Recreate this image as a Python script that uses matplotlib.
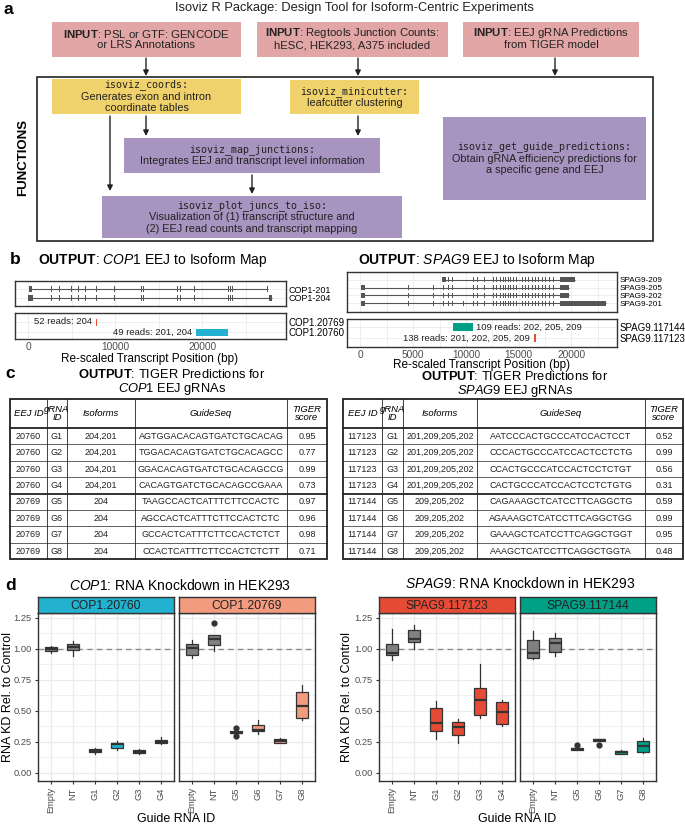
import matplotlib
matplotlib.use("Agg")
import matplotlib.pyplot as plt
from matplotlib.patches import Rectangle
from matplotlib.ticker import MultipleLocator

plt.rcParams['font.family'] = ['Liberation Sans', 'DejaVu Sans']
plt.rcParams['mathtext.fontset'] = 'custom'
plt.rcParams['mathtext.rm'] = 'Liberation Sans'
plt.rcParams['mathtext.it'] = 'Liberation Sans:italic'
plt.rcParams['mathtext.bf'] = 'Liberation Sans:bold'

#### data ####

# panel b: transcript structures (re-scaled bp)
cop1_tx = ["COP1-201", "COP1-204"]
cop1_first = [(150, 450), (40, 610)]
cop1_last = [(27380, 27480), (27660, 28010)]
cop1_inner = [2650, 3600, 4950, 5700, 6580, 7800, 9900, 12950, 13210,
              17130, 17400, 19040, 23000, 23200, 23400]

cop1_juncs = ["COP1.20769", "COP1.20760"]
cop1_junc_start = [7800, 19280]
cop1_junc_end = [7950, 22900]
cop1_junc_reads = [52, 49]
cop1_junc_iso = ["204", "201, 204"]

spag9_tx = ["SPAG9-209", "SPAG9-205", "SPAG9-202", "SPAG9-201"]
spag9_first = [(7700, 8110), (20, 430), (20, 430), (20, 430)]
spag9_last = [(18900, 20350), (18900, 19820), (18900, 19820), (18900, 23270)]
spag9_early = [[], [4540, 6910, 7800], [4540, 6910, 7800], [4540, 6910, 7800, 9760]]
spag9_inner = [8330, 8650, 10710, 11030, 11720, 12610, 12860, 13240, 13490,
               13710, 13970, 14190, 14440, 14720, 15290, 15610, 15930, 16240,
               16560, 16880, 17190, 17510, 17890, 18300]

spag9_juncs = ["SPAG9.117144", "SPAG9.117123"]
spag9_junc_start = [8750, 16420]
spag9_junc_end = [10710, 16620]
spag9_junc_reads = [109, 138]
spag9_junc_iso = ["202, 205, 209", "201, 202, 205, 209"]

# panel c: TIGER tables
cop1_eej = ["20760", "20760", "20760", "20760", "20769", "20769", "20769", "20769"]
cop1_grna = ["G1", "G2", "G3", "G4", "G5", "G6", "G7", "G8"]
cop1_iso = ["204,201", "204,201", "204,201", "204,201", "204", "204", "204", "204"]
cop1_seq = ["AGTGGACACAGTGATCTGCACAG", "TGGACACAGTGATCTGCACAGCC",
            "GGACACAGTGATCTGCACAGCCG", "CACAGTGATCTGCACAGCCGAAA",
            "TAAGCCACTCATTTCTTCCACTC", "AGCCACTCATTTCTTCCACTCTC",
            "GCCACTCATTTCTTCCACTCTCT", "CCACTCATTTCTTCCACTCTCTT"]
cop1_score = ["0.95", "0.77", "0.99", "0.73", "0.97", "0.96", "0.98", "0.71"]

spag9_eej = ["117123", "117123", "117123", "117123", "117144", "117144", "117144", "117144"]
spag9_grna = ["G1", "G2", "G3", "G4", "G5", "G6", "G7", "G8"]
spag9_iso = ["201,209,205,202"] * 4 + ["209,205,202"] * 4
spag9_seq = ["AATCCCACTGCCCATCCACTCCT", "CCCACTGCCCATCCACTCCTCTG",
             "CCACTGCCCATCCACTCCTCTGT", "CACTGCCCATCCACTCCTCTGTG",
             "CAGAAAGCTCATCCTTCAGGCTG", "AGAAAGCTCATCCTTCAGGCTGG",
             "GAAAGCTCATCCTTCAGGCTGGT", "AAAGCTCATCCTTCAGGCTGGTA"]
spag9_score = ["0.52", "0.99", "0.56", "0.31", "0.59", "0.99", "0.95", "0.48"]

table_header = ["EEJ ID", "gRNA\nID", "Isoforms", "GuideSeq", "TIGER\nscore"]

# panel d: knockdown boxplots (whisker low, q1, median, q3, whisker high, outliers)
guides_a = ["Empty", "NT", "G1", "G2", "G3", "G4"]
guides_b = ["Empty", "NT", "G5", "G6", "G7", "G8"]
cop1_a_lo = [0.968, 0.94, 0.155, 0.185, 0.155, 0.23]
cop1_a_q1 = [0.98, 0.988, 0.165, 0.205, 0.16, 0.24]
cop1_a_med = [0.998, 1.015, 0.18, 0.23, 0.17, 0.25]
cop1_a_q3 = [1.015, 1.04, 0.195, 0.245, 0.185, 0.265]
cop1_a_hi = [1.025, 1.063, 0.205, 0.255, 0.19, 0.29]
cop1_a_out = [[], [], [], [], [], []]

cop1_b_lo = [0.93, 0.98, 0.315, 0.315, 0.24, 0.43]
cop1_b_q1 = [0.955, 1.035, 0.32, 0.335, 0.245, 0.445]
cop1_b_med = [1.01, 1.08, 0.325, 0.35, 0.255, 0.54]
cop1_b_q3 = [1.04, 1.11, 0.335, 0.39, 0.275, 0.655]
cop1_b_hi = [1.075, 1.11, 0.34, 0.425, 0.28, 0.71]
cop1_b_out = [[], [1.21], [0.365, 0.295], [], [], []]

spag9_a_lo = [0.912, 1.003, 0.271, 0.239, 0.444, 0.378]
spag9_a_q1 = [0.949, 1.059, 0.340, 0.306, 0.465, 0.391]
spag9_a_med = [0.971, 1.082, 0.404, 0.372, 0.590, 0.492]
spag9_a_q3 = [1.043, 1.152, 0.524, 0.412, 0.683, 0.572]
spag9_a_hi = [1.162, 1.197, 0.577, 0.439, 0.878, 0.585]
spag9_a_out = [[], [], [], [], [], []]

spag9_b_lo = [0.923, 0.944, 0.183, 0.258, 0.152, 0.160]
spag9_b_q1 = [0.931, 0.976, 0.186, 0.258, 0.155, 0.168]
spag9_b_med = [0.965, 1.050, 0.194, 0.266, 0.165, 0.221]
spag9_b_q3 = [1.072, 1.090, 0.205, 0.271, 0.178, 0.260]
spag9_b_hi = [1.144, 1.130, 0.205, 0.271, 0.186, 0.279]
spag9_b_out = [[], [], [0.226], [0.226], [], []]

#### colours ####
DARK = '#222222'
PINK, YELLOW, PURPLE = '#E3A6A6', '#EFD26B', '#A794C0'
C_20760, C_20769 = '#22B2CF', '#F39B7F'
C_117123, C_117144 = '#E64B35', '#00A087'
TX_GREY = '#555555'
GRID = '#EBEBEB'

W, H = 685, 825
fig = plt.figure(figsize=(W / 100, H / 100), dpi=100)


def px_axes(x0, y0, x1, y1):
    return fig.add_axes([x0 / W, 1 - y1 / H, (x1 - x0) / W, (y1 - y0) / H])


# overlay in pixel coords for the flowchart, titles and tables
ov = px_axes(0, 0, W, H)
ov.set_xlim(0, W)
ov.set_ylim(H, 0)
ov.axis('off')


def box(x0, y0, x1, y1, color, lines, size=7.8, step=11.5):
    ov.add_patch(Rectangle((x0, y0), x1 - x0, y1 - y0, facecolor=color, edgecolor='none'))
    cy = (y0 + y1) / 2
    n = len(lines)
    for i, (txt, mono) in enumerate(lines):
        kw = dict(family='DejaVu Sans Mono', fontsize=size - 0.6) if mono else dict(fontsize=size)
        ov.text((x0 + x1) / 2, cy + (i - (n - 1) / 2) * step, txt, ha='center', va='center',
                color=DARK, **kw)


def arrow(x, y0, y1):
    ov.annotate('', xy=(x, y1), xytext=(x, y0),
                arrowprops=dict(arrowstyle='-|>', color=DARK, lw=1.0, mutation_scale=8,
                                shrinkA=0, shrinkB=0))


# ---- panel a ----
ov.text(4, 9, "a", fontsize=12.5, fontweight='bold', va='center')
ov.text(354, 8, "Isoviz R Package: Design Tool for Isoform-Centric Experiments",
        ha='center', va='center', fontsize=9.3, color=DARK)

box(52, 22, 241, 57, PINK, [("$\\mathbf{INPUT}$: PSL or GTF: GENCODE", False), ("or LRS Annotations", False)], size=8.2, step=12)
box(257, 22, 448, 57, PINK, [("$\\mathbf{INPUT}$: Regtools Junction Counts:", False), ("hESC, HEK293, A375 included", False)], size=8.2, step=12)
box(463, 22, 639, 57, PINK, [("$\\mathbf{INPUT}$: EEJ gRNA Predictions", False), ("from TIGER model", False)], size=8.2, step=12)
arrow(146, 58, 76)
arrow(358, 58, 76)
arrow(555, 58, 76)

ov.add_patch(Rectangle((37, 77), 616, 164, facecolor='none', edgecolor=DARK, lw=1.2))
ov.text(23, 157, "FUNCTIONS", rotation=90, ha='center', va='center', fontsize=9.5, fontweight='bold')

box(52, 79, 241, 114, YELLOW, [("isoviz_coords:", True), ("Generates exon and intron", False), ("coordinate tables", False)])
box(290, 80, 419, 114, YELLOW, [("isoviz_minicutter:", True), ("leafcutter clustering", False)])
box(124, 138, 380, 173, PURPLE, [("isoviz_map_junctions:", True), ("Integrates EEJ and transcript level information", False)])
box(443, 117, 646, 200, PURPLE, [("isoviz_get_guide_predictions:", True), ("Obtain gRNA efficiency predictions for", False), ("a specific gene and EEJ", False)])
box(102, 196, 402, 238, PURPLE, [("isoviz_plot_juncs_to_iso:", True), ("Visualization of (1) transcript structure and", False), ("(2) EEJ read counts and transcript mapping", False)])
arrow(146, 116, 136)
arrow(358, 116, 136)
arrow(110, 116, 191)
arrow(252, 175, 194)

# ---- panel b ----
ov.text(10, 260, "b", fontsize=12.5, fontweight='bold', va='center')
ov.text(38, 260, "$\\mathbf{OUTPUT}$: $\\mathit{COP1}$ EEJ to Isoform Map", fontsize=10, va='center')
ov.text(358, 260, "$\\mathbf{OUTPUT}$: $\\mathit{SPAG9}$ EEJ to Isoform Map", fontsize=10, va='center')


def style_track(ax, xlim, major, minor, ylim, rows, names, show_x, lab_size=7):
    ax.set_xlim(*xlim)
    ax.set_ylim(*ylim)
    ax.xaxis.set_major_locator(MultipleLocator(major))
    ax.xaxis.set_minor_locator(MultipleLocator(minor))
    ax.grid(which='both', axis='x', color=GRID, lw=0.6)
    ax.set_yticks(rows)
    ax.set_yticklabels(names, fontsize=lab_size)
    ax.grid(which='major', axis='y', color=GRID, lw=0.6)
    ax.set_axisbelow(True)
    ax.yaxis.tick_right()
    ax.tick_params(axis='y', length=0, pad=2)
    ax.tick_params(axis='x', which='both', length=0, pad=2, labelsize=7.3, labelcolor='#4D4D4D')
    if not show_x:
        ax.set_xticklabels([])
    for s in ax.spines.values():
        s.set_color('#333333')
        s.set_linewidth(1.0)


def draw_tx(ax, rows, first, last, inner_lists, tick_w, h):
    for r, f, l, inner in zip(rows, first, last, inner_lists):
        ax.plot([f[0], l[1]], [r, r], color=TX_GREY, lw=0.8, solid_capstyle='butt')
        segs = [(f[0], f[1] - f[0]), (l[0], l[1] - l[0])] + [(s, tick_w) for s in inner]
        ax.broken_barh(segs, (r - h / 2, h), facecolors=TX_GREY, edgecolor='none')


def draw_juncs(ax, rows, starts, ends, reads, isos, colors, sides):
    for r, s, e, n, iso, c, side in zip(rows, starts, ends, reads, isos, colors, sides):
        ax.broken_barh([(s, e - s)], (r - 0.35, 0.7), facecolors=c, edgecolor='none')
        if side == 'left':
            ax.annotate(f"{n} reads: {iso}", xy=(s, r), xytext=(-3, 0), textcoords='offset points',
                        ha='right', va='center', fontsize=6.8, color=DARK)
        else:
            ax.annotate(f"{n} reads: {iso}", xy=(e, r), xytext=(2, 0), textcoords='offset points',
                        ha='left', va='center', fontsize=6.8, color=DARK)


# COP1 tracks
ax = px_axes(15, 281, 286, 306)
style_track(ax, (-1500, 29600), 10000, 5000, (-0.9, 1.9), [1, 0], cop1_tx, False, lab_size=6.5)
draw_tx(ax, [1, 0], cop1_first, cop1_last, [cop1_inner, cop1_inner], 110, 0.7)

ax = px_axes(15, 313, 286, 339)
style_track(ax, (-1500, 29600), 10000, 5000, (-0.7, 1.9), [1, 0], cop1_juncs, True)
draw_juncs(ax, [1, 0], cop1_junc_start, cop1_junc_end, cop1_junc_reads, cop1_junc_iso,
           [C_117123, C_20760], ['left', 'left'])
ov.text(150, 359, "Re-scaled Transcript Position (bp)", ha='center', va='center', fontsize=8.5)

# SPAG9 tracks
ax = px_axes(347, 272, 617, 312)
style_track(ax, (-1280, 24330), 5000, 2500, (-1.125, 4.0), [3, 2, 1, 0], spag9_tx, False, lab_size=5.9)
draw_tx(ax, [3, 2, 1, 0], spag9_first, spag9_last,
        [e + spag9_inner for e in spag9_early], 90, 0.6)

ax = px_axes(347, 319, 617, 347)
style_track(ax, (-1280, 24330), 5000, 2500, (-0.82, 1.73), [1, 0], spag9_juncs, True)
draw_juncs(ax, [1, 0], spag9_junc_start, spag9_junc_end, spag9_junc_reads, spag9_junc_iso,
           [C_117144, C_117123], ['right', 'left'])
ov.text(482, 365, "Re-scaled Transcript Position (bp)", ha='center', va='center', fontsize=8.5)

# ---- panel c ----
ov.text(5, 374, "c", fontsize=12.5, fontweight='bold', va='center')
ov.text(172, 374, "$\\mathbf{OUTPUT}$: TIGER Predictions for", ha='center', va='center', fontsize=9.3)
ov.text(172, 389, "$\\mathit{COP1}$ EEJ gRNAs", ha='center', va='center', fontsize=9.3)
ov.text(515, 377, "$\\mathbf{OUTPUT}$: TIGER Predictions for", ha='center', va='center', fontsize=9.3)
ov.text(515, 391, "$\\mathit{SPAG9}$ EEJ gRNAs", ha='center', va='center', fontsize=9.3)


def draw_table(xs, cols, top=399, head_h=29, row_h=16.4):
    n = len(cols[0])
    bottom = top + head_h + n * row_h
    # thin inner lines
    for i in range(1, len(xs) - 1):
        ov.plot([xs[i], xs[i]], [top, bottom], color=DARK, lw=0.6)
    for j in range(1, n):
        y = top + head_h + j * row_h
        thick = (j == 4)
        ov.plot([xs[0], xs[-1]], [y, y], color=DARK, lw=1.3 if thick else 0.5)
    ov.plot([xs[0], xs[-1]], [top + head_h] * 2, color=DARK, lw=1.3)
    ov.add_patch(Rectangle((xs[0], top), xs[-1] - xs[0], bottom - top, facecolor='none',
                           edgecolor=DARK, lw=1.3))
    for i, h in enumerate(table_header):
        ov.text((xs[i] + xs[i + 1]) / 2, top + head_h / 2, h, ha='center', va='center',
                fontsize=6.8, style='italic', linespacing=0.8)
    for i, col in enumerate(cols):
        for j, v in enumerate(col):
            ov.text((xs[i] + xs[i + 1]) / 2, top + head_h + (j + 0.5) * row_h, v,
                    ha='center', va='center', fontsize=6.5, color=DARK)


draw_table([10, 47, 67, 135, 287, 327], [cop1_eej, cop1_grna, cop1_iso, cop1_seq, cop1_score])
draw_table([343, 382, 403, 477, 645, 683], [spag9_eej, spag9_grna, spag9_iso, spag9_seq, spag9_score])

# ---- panel d ----
ov.text(5, 586, "d", fontsize=12.5, fontweight='bold', va='center')
ov.text(180, 585, "$\\mathit{COP1}$: RNA Knockdown in HEK293", ha='center', va='center', fontsize=10)
ov.text(520, 583, "$\\mathit{SPAG9}$: RNA Knockdown in HEK293", ha='center', va='center', fontsize=10)


def facet(x0, x1, name, color, labels, lo, q1, med, q3, hi, out, show_y):
    ax = px_axes(x0, 613, x1, 781)
    stats = [dict(label=l, whislo=a, q1=b, med=c, q3=d, whishi=e, fliers=f)
             for l, a, b, c, d, e, f in zip(labels, lo, q1, med, q3, hi, out)]
    bp = ax.bxp(stats, positions=range(1, 7), widths=0.55, patch_artist=True, showcaps=False,
                boxprops=dict(edgecolor='#333333', lw=0.9),
                medianprops=dict(color='#333333', lw=1.6),
                whiskerprops=dict(color='#333333', lw=0.9),
                flierprops=dict(marker='o', markerfacecolor='#333333', markeredgecolor='#333333',
                                markersize=3.5))
    for k, patch in enumerate(bp['boxes']):
        patch.set_facecolor('#808080' if k < 2 else color)
    ax.axhline(1.0, color='#8C8C8C', lw=1.0, dashes=(4, 3), zorder=1)
    ax.set_xlim(0.4, 6.6)
    ax.set_ylim(-0.065, 1.29)
    ax.set_yticks([0, 0.25, 0.5, 0.75, 1.0, 1.25])
    ax.yaxis.set_minor_locator(MultipleLocator(0.125))
    ax.grid(which='major', color=GRID, lw=0.9)
    ax.grid(which='minor', axis='y', color=GRID, lw=0.5)
    ax.set_axisbelow(True)
    ax.set_xticks(range(1, 7))
    ax.set_xticklabels(labels, rotation=90)
    ax.tick_params(which='major', length=2.5, color='#333333', labelsize=6.7, labelcolor='#4D4D4D', pad=2)
    ax.tick_params(which='minor', length=0)
    if show_y:
        ax.set_yticklabels(["0.00", "0.25", "0.50", "0.75", "1.00", "1.25"])
    else:
        ax.tick_params(axis='y', which='both', left=False, labelleft=False)
    for s in ax.spines.values():
        s.set_color('#333333')
        s.set_linewidth(1.0)
    st = px_axes(x0, 597, x1, 613)
    st.set_facecolor(color)
    st.set_xticks([])
    st.set_yticks([])
    for s in st.spines.values():
        s.set_color('#333333')
        s.set_linewidth(1.0)
    st.text(0.5, 0.45, name, ha='center', va='center', fontsize=8.7, color=DARK, transform=st.transAxes)


facet(38, 174, "COP1.20760", C_20760, guides_a,
      cop1_a_lo, cop1_a_q1, cop1_a_med, cop1_a_q3, cop1_a_hi, cop1_a_out, True)
facet(179, 315, "COP1.20769", C_20769, guides_b,
      cop1_b_lo, cop1_b_q1, cop1_b_med, cop1_b_q3, cop1_b_hi, cop1_b_out, False)
facet(379, 515, "SPAG9.117123", C_117123, guides_a,
      spag9_a_lo, spag9_a_q1, spag9_a_med, spag9_a_q3, spag9_a_hi, spag9_a_out, True)
facet(520, 656, "SPAG9.117144", C_117144, guides_b,
      spag9_b_lo, spag9_b_q1, spag9_b_med, spag9_b_q3, spag9_b_hi, spag9_b_out, False)

ov.text(8, 697, "RNA KD Rel. to Control", rotation=90, ha='center', va='center', fontsize=9)
ov.text(347, 697, "RNA KD Rel. to Control", rotation=90, ha='center', va='center', fontsize=9)
ov.text(176, 819, "Guide RNA ID", ha='center', va='center', fontsize=9)
ov.text(517, 819, "Guide RNA ID", ha='center', va='center', fontsize=9)

fig.savefig("out.png", dpi=100, facecolor='white')
